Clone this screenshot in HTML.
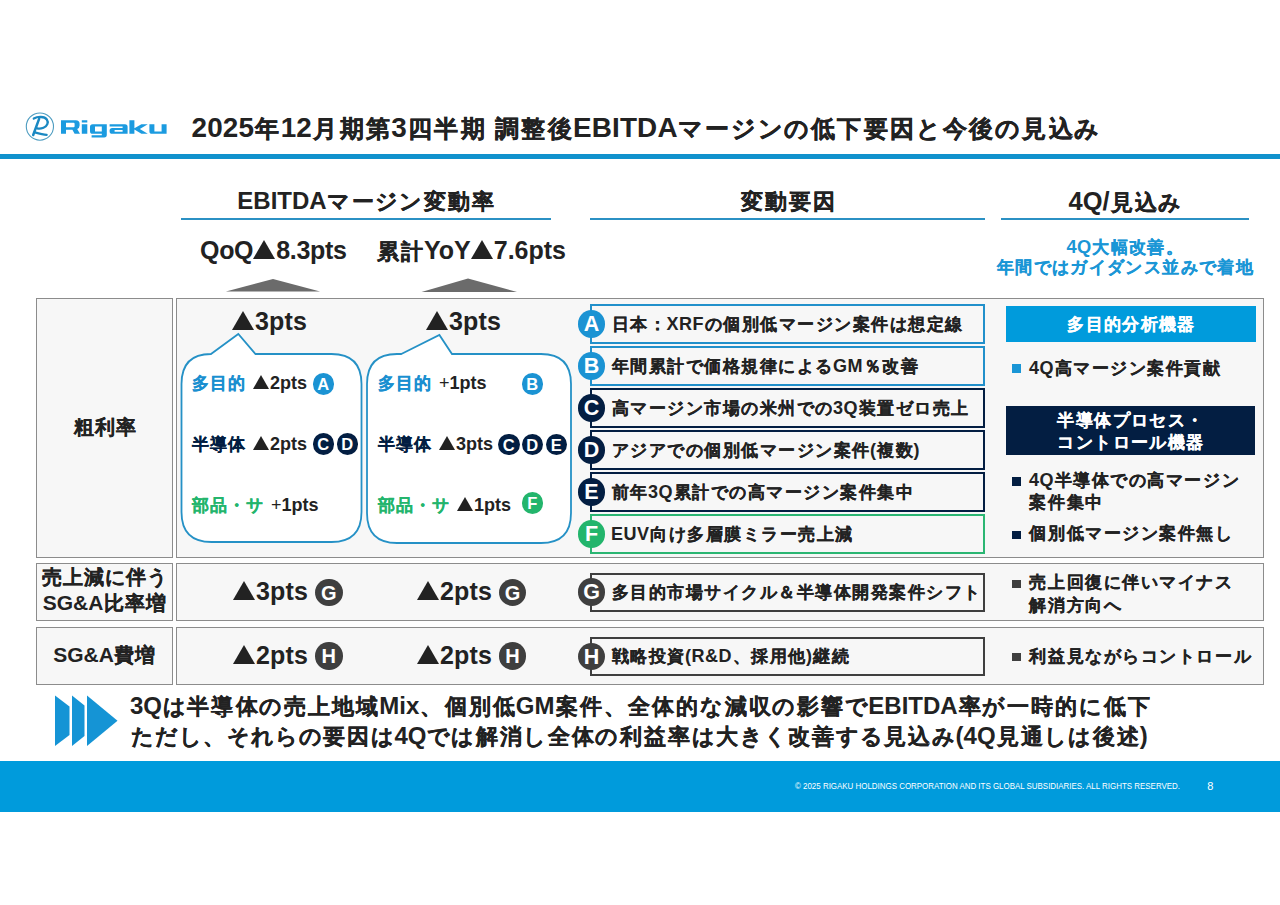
<!DOCTYPE html>
<html><head><meta charset="utf-8">
<style>
html,body{margin:0;padding:0;background:#fff;}
body{width:1280px;height:905px;position:relative;overflow:hidden;font-family:"Liberation Sans",sans-serif;color:#222;}
.a{position:absolute;white-space:nowrap;}
.b{font-weight:bold;}
.cell{position:absolute;background:#f7f7f7;border:1.5px solid #8c8c8c;box-sizing:border-box;}
.hl{position:absolute;height:2.2px;background:#2b91c4;}
.fb{position:absolute;left:590px;width:395px;height:39.2px;box-sizing:border-box;border:2px solid #1f80b2;background:#f7f7f7;}
.fc{position:absolute;width:27.5px;height:27.5px;border-radius:50%;color:#fff;font-weight:bold;font-size:21.5px;line-height:28.5px;text-align:center;}
.sc{display:inline-block;width:21px;height:21px;border-radius:50%;color:#fff;font-weight:bold;font-size:15px;line-height:21px;text-align:center;vertical-align:middle;}
.ft{position:absolute;left:611px;font-size:18px;letter-spacing:0.5px;--w:18.5px;font-weight:bold;line-height:38px;white-space:nowrap;color:#222;}
.cb{background:#1b93d3;}
.cn{background:#031e42;}
.cg{background:#23b56c;}
.cd{background:#3f3f3f;}
.bl{position:absolute;width:9px;height:8.5px;}
.tri{display:inline-block;width:0;height:0;border-left:11px solid transparent;border-right:11px solid transparent;border-bottom:19.5px solid #222;margin-right:1px;}
.trs{display:inline-block;width:0;height:0;border-left:8.25px solid transparent;border-right:8.25px solid transparent;border-bottom:14.5px solid #222;margin-right:1px;}
.bt{font-size:18px;line-height:24px;color:#222;word-spacing:3px;}
.pl{font-weight:normal;}
.L{font-size:106%;}
.rt{position:absolute;left:1029px;font-size:18px;letter-spacing:0.55px;--w:18.55px;font-weight:bold;white-space:nowrap;color:#222;}
i{font-style:normal;display:inline-block;font-size:calc(var(--gs,0.93)*1em);width:var(--w,calc(1em / var(--gs,0.93)));text-align:center;line-height:1;-webkit-text-stroke:var(--sk,0.2px) currentColor;}
</style></head><body>

<!-- logo -->
<svg class="a" style="left:0;top:0" width="1280" height="160">
  <circle cx="39.9" cy="126.6" r="13.6" fill="none" stroke="#4d9cc0" stroke-width="1.1"/>
  <path d="M33.8 118.6 C38 116.3 44.5 116.3 46.8 119.5 C48.8 122.4 47.3 126.3 43.5 127.8 C41 128.8 38.8 128.9 37.2 128.4" fill="none" stroke="#1a88c2" stroke-width="2.3" stroke-linecap="round"/>
  <path d="M39.2 118.6 L33.2 135" fill="none" stroke="#1a88c2" stroke-width="2.5" stroke-linecap="round"/>
  <path d="M34.8 132.3 C38.5 133.3 43 134.5 46.6 134.8" fill="none" stroke="#1a88c2" stroke-width="2.3" stroke-linecap="round"/>
  <rect x="0" y="154" width="1280" height="5" fill="#1192cd"/>
</svg>
<svg class="a" style="left:0;top:0" width="200" height="150"><g fill="#1b9be0" fill-rule="evenodd">
<path d="M61 120.2 H75.8 Q79.6 120.2 79.6 123.8 V125.6 Q79.6 128.2 77.2 129 L80 133.8 H74.6 L72.4 129.7 H66 V133.8 H61 Z M66 122.7 H73.6 Q74.6 122.7 74.6 123.7 V126.3 Q74.6 127.3 73.6 127.3 H66 Z"/>
<path d="M81.8 120.2 H87.3 V122.4 H81.8 Z M81.8 124.2 H87.3 V133.8 H81.8 Z"/>
<path d="M92.6 124.2 H106.8 V134.8 Q106.8 137.4 104.2 137.4 H91.6 V135.3 H101.8 V133.8 H92.6 Q90 133.8 90 131.2 V126.8 Q90 124.2 92.6 124.2 Z M95 126.4 H101.8 V131.6 H95 Z"/>
<path d="M109.6 124.2 H125 Q127.6 124.2 127.6 126.8 V133.8 H112.2 Q109.6 133.8 109.6 131.2 V130.6 Q109.6 128 112.2 128 H122.6 V126.4 H109.6 Z M114.6 130 H122.6 V131.8 H114.6 Z"/>
<path d="M129.4 120.2 H134.4 V133.8 H129.4 Z M134.4 128.2 L141.4 124.2 H147.8 L139.8 128.9 L147.8 133.8 H141.4 L134.4 129.6 Z"/>
<path d="M149.4 124.2 H154.4 V131.6 H161.6 V124.2 H166.6 V133.8 H152 Q149.4 133.8 149.4 131.2 Z"/>
</g></svg>

<!-- title -->
<div class="a b" style="left:191.5px;top:110px;font-size:26.3px;letter-spacing:0.19px;--w:26.42px;--sk:0.35px;line-height:36px;color:#222;"><span class="L">2025</span><i>年</i><span class="L">12</span><i>月</i><i>期</i><i>第</i><span class="L">3</span><i>四</i><i>半</i><i>期</i> <i>調</i><i>整</i><i>後</i><span class="L">EBITDA</span><i>マ</i><i>ー</i><i>ジ</i><i>ン</i><i>の</i><i>低</i><i>下</i><i>要</i><i>因</i><i>と</i><i>今</i><i>後</i><i>の</i><i>見</i><i>込</i><i>み</i></div>

<!-- column headers -->
<div class="a b" style="left:181px;width:370px;text-align:center;top:184px;font-size:24px;line-height:34px;--sk:0.2px;">EBITDA<i>マ</i><i>ー</i><i>ジ</i><i>ン</i><i>変</i><i>動</i><i>率</i></div>
<div class="hl" style="left:181px;width:370px;top:218.2px;"></div>
<div class="a b" style="left:590px;width:395px;text-align:center;top:184px;font-size:24px;line-height:34px;--sk:0.2px;"><i>変</i><i>動</i><i>要</i><i>因</i></div>
<div class="hl" style="left:590px;width:395px;top:218.2px;"></div>
<div class="a b" style="left:1001px;width:248px;text-align:center;top:184px;font-size:24px;line-height:34px;--sk:0.2px;"><span class="L">4Q/</span><i>見</i><i>込</i><i>み</i></div>
<div class="hl" style="left:1001px;width:248px;top:218.2px;"></div>

<div class="a b" style="left:200px;top:233px;font-size:25px;line-height:34px;letter-spacing:-0.3px;">QoQ<span class="tri"></span>8.3pts</div>
<div class="a b" style="left:376px;top:233px;font-size:25px;line-height:34px;"><span style="font-size:24px"><i>累</i><i>計</i></span>YoY<span class="tri"></span>7.6pts</div>
<div class="a b" style="left:990px;width:270px;text-align:center;top:237.3px;font-size:18.3px;line-height:20px;letter-spacing:0.37px;--w:18.37px;color:#1a96d6;">4Q<i>大</i><i>幅</i><i>改</i><i>善</i><i>。</i><br><i>年</i><i>間</i><i>で</i><i>は</i><i>ガ</i><i>イ</i><i>ダ</i><i>ン</i><i>ス</i><i>並</i><i>み</i><i>で</i><i>着</i><i>地</i></div>

<svg class="a" style="left:0;top:270px" width="600" height="30">
  <path d="M225.9 21.6 L273 9 L320.1 21.6 Z" fill="#6b6b6b"/>
  <path d="M421.5 22 L468 8.5 L517 22 Z" fill="#6b6b6b"/>
</svg>

<!-- table cells -->
<div class="cell" style="left:36px;top:297.5px;width:137px;height:260px;"></div>
<div class="cell" style="left:176px;top:297.5px;width:1088px;height:260px;"></div>
<div class="cell" style="left:36px;top:563px;width:137px;height:58px;"></div>
<div class="cell" style="left:176px;top:563px;width:1088px;height:58px;"></div>
<div class="cell" style="left:36px;top:627px;width:137px;height:57.5px;"></div>
<div class="cell" style="left:176px;top:627px;width:1088px;height:57.5px;"></div>


<!-- left labels -->
<div class="a b" style="left:36px;width:137px;text-align:center;top:412px;font-size:21px;line-height:30px;"><i>粗</i><i>利</i><i>率</i></div>
<div class="a b" style="left:36px;width:137px;text-align:center;top:564px;font-size:21px;line-height:26px;"><i>売</i><i>上</i><i>減</i><i>に</i><i>伴</i><i>う</i><br>SG&amp;A<i>比</i><i>率</i><i>増</i></div>
<div class="a b" style="left:36px;width:137px;text-align:center;top:639.5px;font-size:21px;line-height:30px;">SG&amp;A<i>費</i><i>増</i></div>

<!-- bubbles -->
<svg class="a" style="left:0;top:0" width="600" height="560">
  <path d="M211 354 L238.3 334 L255.5 354 L331.5 354 Q361.5 354 361.5 384 L361.5 512 Q361.5 542 331.5 542 L211.5 542 Q181.5 542 181.5 512 L181.5 384 Q181.5 354 211 354 Z" fill="#fff" stroke="#2591c6" stroke-width="1.8"/>
  <path d="M401.3 354 L439.4 335 L452 354 L541 354 Q571 354 571 384 L571 513 Q571 543 541 543 L397 543 Q367 543 367 513 L367 384 Q367 354 397 354 Z" fill="#fff" stroke="#2591c6" stroke-width="1.8"/>
</svg>

<div class="a b" style="left:232px;top:305px;font-size:25px;line-height:33px;letter-spacing:0.2px;"><span class="tri"></span>3pts</div>
<div class="a b" style="left:426px;top:305px;font-size:25px;line-height:33px;letter-spacing:0.2px;"><span class="tri"></span>3pts</div>

<div class="a b bt" style="left:191px;top:371px;"><span style="color:#1a8fd0"><i>多</i><i>目</i><i>的</i></span> <span class="trs"></span>2pts</div>
<div class="fc cb" style="left:312.5px;top:373px;width:21.5px;height:21.5px;line-height:22px;font-size:16.5px;">A</div>
<div class="a b bt" style="left:191px;top:432px;"><span style="color:#031e42"><i>半</i><i>導</i><i>体</i></span> <span class="trs"></span>2pts</div>
<div class="fc cn" style="left:312.5px;top:433px;width:21.5px;height:21.5px;line-height:22px;font-size:16.5px;">C</div>
<div class="fc cn" style="left:336.5px;top:433px;width:21.5px;height:21.5px;line-height:22px;font-size:16.5px;">D</div>
<div class="a b bt" style="left:191px;top:493px;"><span style="color:#23b56c"><i>部</i><i>品</i><i>・</i><i>サ</i></span> <span class="pl">+</span>1pts</div>

<div class="a b bt" style="left:377px;top:371px;"><span style="color:#1a8fd0"><i>多</i><i>目</i><i>的</i></span> <span class="pl">+</span>1pts</div>
<div class="fc cb" style="left:521.5px;top:373px;width:21.5px;height:21.5px;line-height:22px;font-size:16.5px;">B</div>
<div class="a b bt" style="left:377px;top:432px;"><span style="color:#031e42"><i>半</i><i>導</i><i>体</i></span> <span class="trs"></span>3pts</div>
<div class="fc cn" style="left:498px;top:433.5px;width:21.5px;height:21.5px;line-height:22px;font-size:16.5px;">C</div>
<div class="fc cn" style="left:521.5px;top:433.5px;width:21.5px;height:21.5px;line-height:22px;font-size:16.5px;">D</div>
<div class="fc cn" style="left:545.5px;top:433.5px;width:21.5px;height:21.5px;line-height:22px;font-size:16.5px;">E</div>
<div class="a b bt" style="left:377px;top:493px;"><span style="color:#23b56c"><i>部</i><i>品</i><i>・</i><i>サ</i></span> <span class="trs"></span>1pts</div>
<div class="fc cg" style="left:521.5px;top:492px;width:21.5px;height:21.5px;line-height:22px;font-size:16.5px;">F</div>

<!-- factor boxes -->
<div class="fb" style="top:304.4px;border-color:#2190cb;"></div>
<div class="fb" style="top:346.4px;border-color:#2190cb;"></div>
<div class="fb" style="top:388.4px;border-color:#031e42;"></div>
<div class="fb" style="top:430.4px;border-color:#031e42;"></div>
<div class="fb" style="top:472.4px;border-color:#031e42;"></div>
<div class="fb" style="top:514.4px;border-color:#2bb673;"></div>
<div class="fb" style="top:573px;border-color:#3f3f3f;"></div>
<div class="fb" style="top:636.9px;border-color:#3f3f3f;"></div>

<div class="fc cb" style="left:577.75px;top:310.25px;">A</div>
<div class="fc cb" style="left:577.75px;top:352.25px;">B</div>
<div class="fc cn" style="left:577.75px;top:394.25px;">C</div>
<div class="fc cn" style="left:577.75px;top:436.25px;">D</div>
<div class="fc cn" style="left:577.75px;top:478.25px;">E</div>
<div class="fc cg" style="left:577.75px;top:520.25px;">F</div>
<div class="fc cd" style="left:577.75px;top:578.25px;">G</div>
<div class="fc cd" style="left:577.75px;top:642.5px;">H</div>

<div class="ft" style="top:304.8px;"><i>日</i><i>本</i><i>：</i>XRF<i>の</i><i>個</i><i>別</i><i>低</i><i>マ</i><i>ー</i><i>ジ</i><i>ン</i><i>案</i><i>件</i><i>は</i><i>想</i><i>定</i><i>線</i></div>
<div class="ft" style="top:346.8px;"><i>年</i><i>間</i><i>累</i><i>計</i><i>で</i><i>価</i><i>格</i><i>規</i><i>律</i><i>に</i><i>よ</i><i>る</i>GM<i>％</i><i>改</i><i>善</i></div>
<div class="ft" style="top:388.8px;"><i>高</i><i>マ</i><i>ー</i><i>ジ</i><i>ン</i><i>市</i><i>場</i><i>の</i><i>米</i><i>州</i><i>で</i><i>の</i>3Q<i>装</i><i>置</i><i>ゼ</i><i>ロ</i><i>売</i><i>上</i></div>
<div class="ft" style="top:430.8px;"><i>ア</i><i>ジ</i><i>ア</i><i>で</i><i>の</i><i>個</i><i>別</i><i>低</i><i>マ</i><i>ー</i><i>ジ</i><i>ン</i><i>案</i><i>件</i>(<i>複</i><i>数</i>)</div>
<div class="ft" style="top:472.8px;"><i>前</i><i>年</i>3Q<i>累</i><i>計</i><i>で</i><i>の</i><i>高</i><i>マ</i><i>ー</i><i>ジ</i><i>ン</i><i>案</i><i>件</i><i>集</i><i>中</i></div>
<div class="ft" style="top:514.8px;">EUV<i>向</i><i>け</i><i>多</i><i>層</i><i>膜</i><i>ミ</i><i>ラ</i><i>ー</i><i>売</i><i>上</i><i>減</i></div>
<div class="ft" style="top:573.3px;"><i>多</i><i>目</i><i>的</i><i>市</i><i>場</i><i>サ</i><i>イ</i><i>ク</i><i>ル</i><i>＆</i><i>半</i><i>導</i><i>体</i><i>開</i><i>発</i><i>案</i><i>件</i><i>シ</i><i>フ</i><i>ト</i></div>
<div class="ft" style="top:636.8px;"><i>戦</i><i>略</i><i>投</i><i>資</i>(R&amp;D<i>、</i><i>採</i><i>用</i><i>他</i>)<i>継</i><i>続</i></div>

<!-- right column -->
<div class="a b" style="left:1006px;top:305.5px;width:250px;height:36px;background:#009bdc;color:#fff;text-align:center;font-size:18px;line-height:36px;letter-spacing:0.4px;--w:18.4px;"><i>多</i><i>目</i><i>的</i><i>分</i><i>析</i><i>機</i><i>器</i></div>
<div class="bl" style="left:1012px;top:364px;background:#1a96d6;"></div>
<div class="rt" style="top:356px;line-height:24px;">4Q<i>高</i><i>マ</i><i>ー</i><i>ジ</i><i>ン</i><i>案</i><i>件</i><i>貢</i><i>献</i></div>
<div class="a b" style="left:1006px;top:406px;width:249px;height:49px;background:#031e42;color:#fff;text-align:center;font-size:18px;line-height:22px;padding-top:2.5px;box-sizing:border-box;letter-spacing:0.4px;--w:18.4px;"><i>半</i><i>導</i><i>体</i><i>プ</i><i>ロ</i><i>セ</i><i>ス</i><i>・</i><br><i>コ</i><i>ン</i><i>ト</i><i>ロ</i><i>ー</i><i>ル</i><i>機</i><i>器</i></div>
<div class="bl" style="left:1012px;top:477px;background:#031e42;"></div>
<div class="rt" style="top:468.5px;line-height:22.3px;">4Q<i>半</i><i>導</i><i>体</i><i>で</i><i>の</i><i>高</i><i>マ</i><i>ー</i><i>ジ</i><i>ン</i><br><i>案</i><i>件</i><i>集</i><i>中</i></div>
<div class="bl" style="left:1012px;top:530.5px;background:#031e42;"></div>
<div class="rt" style="top:521px;line-height:24px;"><i>個</i><i>別</i><i>低</i><i>マ</i><i>ー</i><i>ジ</i><i>ン</i><i>案</i><i>件</i><i>無</i><i>し</i></div>

<!-- rows 2/3 -->
<div class="a b" style="left:233px;top:575px;font-size:25px;line-height:33px;letter-spacing:0.2px;"><span class="tri"></span>3pts</div>
<div class="fc cd" style="left:315px;top:578.5px;width:27.5px;height:27.5px;line-height:28.5px;font-size:20px;">G</div>
<div class="a b" style="left:417px;top:575px;font-size:25px;line-height:33px;letter-spacing:0.2px;"><span class="tri"></span>2pts</div>
<div class="fc cd" style="left:498.75px;top:578.5px;width:27.5px;height:27.5px;line-height:28.5px;font-size:20px;">G</div>
<div class="a b" style="left:233px;top:639px;font-size:25px;line-height:33px;letter-spacing:0.2px;"><span class="tri"></span>2pts</div>
<div class="fc cd" style="left:315px;top:642px;width:27.5px;height:27.5px;line-height:28.5px;font-size:20px;">H</div>
<div class="a b" style="left:417px;top:639px;font-size:25px;line-height:33px;letter-spacing:0.2px;"><span class="tri"></span>2pts</div>
<div class="fc cd" style="left:498.75px;top:642px;width:27.5px;height:27.5px;line-height:28.5px;font-size:20px;">H</div>

<div class="bl" style="left:1012px;top:579.5px;background:#3f3f3f;"></div>
<div class="rt" style="top:571px;line-height:23px;"><i>売</i><i>上</i><i>回</i><i>復</i><i>に</i><i>伴</i><i>い</i><i>マ</i><i>イ</i><i>ナ</i><i>ス</i><br><i>解</i><i>消</i><i>方</i><i>向</i><i>へ</i></div>
<div class="bl" style="left:1012px;top:652.5px;background:#3f3f3f;"></div>
<div class="rt" style="top:644px;line-height:24px;"><i>利</i><i>益</i><i>見</i><i>な</i><i>が</i><i>ら</i><i>コ</i><i>ン</i><i>ト</i><i>ロ</i><i>ー</i><i>ル</i></div>

<!-- bottom message -->
<svg class="a" style="left:0;top:680px" width="140" height="80">
  <path d="M55 15.5 L69.5 26.5 L69.5 55 L55 66 Z" fill="#1594d5"/>
  <path d="M72 15.5 L84.5 25.6 L84.5 56 L72 66 Z" fill="#1594d5"/>
  <path d="M87 15.5 L117.5 40.7 L87 66 Z" fill="#1594d5"/>
</svg>
<div class="a b" style="left:130px;top:691px;font-size:24px;line-height:30px;color:#222;--w:24.15px;--sk:0.2px;--gs:0.9;">3Q<i>は</i><i>半</i><i>導</i><i>体</i><i>の</i><i>売</i><i>上</i><i>地</i><i>域</i>Mix<i>、</i><i>個</i><i>別</i><i>低</i>GM<i>案</i><i>件</i><i>、</i><i>全</i><i>体</i><i>的</i><i>な</i><i>減</i><i>収</i><i>の</i><i>影</i><i>響</i><i>で</i>EBITDA<i>率</i><i>が</i><i>一</i><i>時</i><i>的</i><i>に</i><i>低</i><i>下</i></div>
<div class="a b" style="left:130px;top:721px;font-size:24px;line-height:30px;color:#222;--w:24.05px;--sk:0.2px;--gs:0.9;"><i>た</i><i>だ</i><i>し</i><i>、</i><i>そ</i><i>れ</i><i>ら</i><i>の</i><i>要</i><i>因</i><i>は</i>4Q<i>で</i><i>は</i><i>解</i><i>消</i><i>し</i><i>全</i><i>体</i><i>の</i><i>利</i><i>益</i><i>率</i><i>は</i><i>大</i><i>き</i><i>く</i><i>改</i><i>善</i><i>す</i><i>る</i><i>見</i><i>込</i><i>み</i>(4Q<i>見</i><i>通</i><i>し</i><i>は</i><i>後</i><i>述</i>)</div>


<!-- footer -->
<div class="a" style="left:0;top:760.5px;width:1280px;height:51.5px;background:#009bdc;"></div>
<svg class="a" style="left:0;top:760px" width="1280" height="52"><text x="795" y="28.8" font-family="Liberation Sans" font-size="8.6" fill="#fff" textLength="385" lengthAdjust="spacingAndGlyphs">© 2025 RIGAKU HOLDINGS CORPORATION AND ITS GLOBAL SUBSIDIARIES. ALL RIGHTS RESERVED.</text><text x="1207.3" y="30" font-family="Liberation Sans" font-size="11" fill="#fff">8</text></svg>
</body></html>
